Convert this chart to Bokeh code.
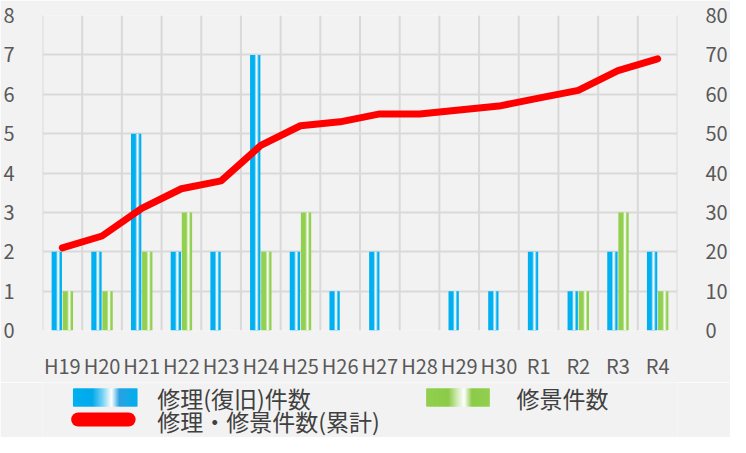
from bokeh.plotting import figure
from bokeh.models import Range1d, LinearAxis, FactorRange, Span, FixedTicker, ColumnDataSource
from bokeh.transform import dodge
from bokeh.layouts import column
from bokeh.core.properties import value
from bokeh.embed import file_html
from bokeh.resources import INLINE

categories = ["H19", "H20", "H21", "H22", "H23", "H24", "H25", "H26",
              "H27", "H28", "H29", "H30", "R1", "R2", "R3", "R4"]
repair = [2, 2, 5, 2, 2, 7, 2, 1, 2, 0, 1, 1, 2, 1, 2, 2]
scenery = [1, 1, 2, 3, 0, 2, 3, 0, 0, 0, 0, 0, 0, 1, 3, 1]
cumulative = [21, 24, 31, 36, 38, 47, 52, 53, 55, 55, 56, 57, 59, 61, 66, 69]
left_ticks = list(range(0, 9))
right_ticks = list(range(0, 81, 10))
legend_labels = ["修理(復旧)件数", "修景件数", "修理・修景件数(累計)"]

BG = "#F2F2F2"
GRID = "#D9D9D9"
FONT = "Noto Sans CJK JP"
TICK_COLOR = "#595959"

source = ColumnDataSource(dict(cat=categories, repair=repair, scenery=scenery, cum=cumulative))

MAIN_H = 382
p = figure(x_range=FactorRange(factors=categories), y_range=Range1d(0, 8),
           width=730, height=MAIN_H, output_backend="svg", toolbar_location=None,
           min_border_left=36, min_border_right=44, min_border_top=15, min_border_bottom=43,
           background_fill_color=BG, border_fill_color=BG, outline_line_color=None)
p.extra_y_ranges = {"cum": Range1d(0, 80)}

# grid
p.xgrid.visible = False
p.ygrid.ticker = FixedTicker(ticks=left_ticks)
p.ygrid.grid_line_color = GRID
p.ygrid.grid_line_width = 2
for i in range(len(categories) + 1):
    p.add_layout(Span(location=i, dimension="height", line_color=GRID, line_width=2, level="underlay"))

# bars with a light stripe (imitating gradient fill)
bw = 0.26
bo = 0.14
def striped_bar(field, offset, base, c1, c2):
    p.vbar(x=dodge("cat", offset, range=p.x_range), top=field, width=bw, source=source,
           fill_color=base, line_color=None)
    p.vbar(x=dodge("cat", offset + 0.035, range=p.x_range), top=field, width=0.09, source=source,
           fill_color=c1, line_color=None)
    p.vbar(x=dodge("cat", offset + 0.035, range=p.x_range), top=field, width=0.05, source=source,
           fill_color=c2, line_color=None)
    p.vbar(x=dodge("cat", offset + 0.035, range=p.x_range), top=field, width=0.02, source=source,
           fill_color="#FFFFFF", line_color=None)

striped_bar("repair", -bo, "#00B0F0", "#6FD0F5", "#C8EEFC")
striped_bar("scenery", bo, "#92D050", "#B9E090", "#E4F4D6")

p.line(x="cat", y="cum", y_range_name="cum", source=source, line_color="#FF0000",
       line_width=7, line_cap="round", line_join="round")

# axes
def style_axis(ax):
    ax.axis_line_color = None
    ax.major_tick_line_color = None
    ax.minor_tick_line_color = None
    ax.major_label_text_font = FONT
    ax.major_label_text_font_size = "20px"
    ax.major_label_text_color = TICK_COLOR

p.yaxis.ticker = FixedTicker(ticks=left_ticks)
style_axis(p.yaxis[0])
p.yaxis.major_label_standoff = 22
style_axis(p.xaxis[0])
p.xaxis.major_label_standoff = 14

rax = LinearAxis(y_range_name="cum", ticker=FixedTicker(ticks=right_ticks))
style_axis(rax)
rax.major_label_standoff = 22
p.add_layout(rax, "right")

# legend panel
LH = 437 - MAIN_H
lg = figure(width=730, height=LH, x_range=Range1d(0, 730), y_range=Range1d(LH, 0),
            output_backend="svg", toolbar_location=None, x_axis_type=None, y_axis_type=None,
            min_border=0, background_fill_color=BG, border_fill_color=BG, outline_line_color=None)
lg.grid.visible = False

def hex2rgb(h):
    return tuple(int(h[i:i + 2], 16) for i in (1, 3, 5))

def grad_color(stops, t):
    for (t0, c0), (t1, c1) in zip(stops[:-1], stops[1:]):
        if t0 <= t <= t1:
            a = hex2rgb(c0); b = hex2rgb(c1)
            f = 0 if t1 == t0 else (t - t0) / (t1 - t0)
            return "#%02x%02x%02x" % tuple(int(round(a[k] + (b[k] - a[k]) * f)) for k in range(3))
    return stops[-1][1]

def grad_swatch(x0, x1, y0, y1, stops):
    n = int(x1 - x0)
    lefts = [x0 + i for i in range(n)]
    rights = [min(x0 + i + 2, x1) for i in range(n)]
    cols = [grad_color(stops, (i + 0.5) / n) for i in range(n)]
    lg.quad(left=lefts, right=rights, top=[y0] * n, bottom=[y1] * n, fill_color=cols, line_color=None)

blue_stops = [(0, "#00B0F0"), (0.3, "#00AAEC"), (0.45, "#6DCFF4"), (0.6, "#FFFFFF"),
              (0.72, "#2AA2E0"), (1, "#00B0F0")]
green_stops = [(0, "#92D050"), (0.35, "#8CCB48"), (0.5, "#D6EDBE"), (0.6, "#FFFFFF"),
               (0.72, "#8CCB48"), (1, "#92D050")]

grad_swatch(35, 109, 6, 24, blue_stops)
grad_swatch(441, 514, 6, 24, green_stops)
lg.line(x=[41, 99], y=[37, 37], line_color="#FF0000", line_width=14, line_cap="round")

lg.text(x=[132, 545, 132], y=[15, 15, 38], text=legend_labels,
        text_font=value(FONT), text_font_size=value("23px"), text_color="#404040",
        text_baseline="middle", text_align="left")

layout = column(p, lg, spacing=0)
open("out.html", "w").write(file_html(layout, INLINE))
